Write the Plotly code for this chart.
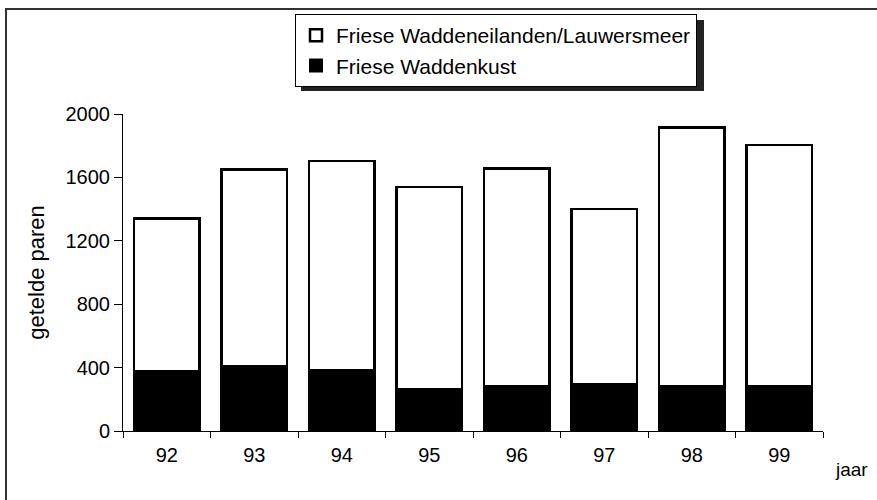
import plotly.graph_objects as go

years = ["92", "93", "94", "95", "96", "97", "98", "99"]
waddenkust = [380, 410, 385, 265, 280, 295, 285, 285]
eilanden_lauwersmeer = [960, 1240, 1320, 1275, 1375, 1105, 1630, 1520]
y_ticks = [0, 400, 800, 1200, 1600, 2000]

FONT = "Liberation Sans, Arial, sans-serif"

L, R, T, B = 123, 823, 114, 431
W, H = R - L, B - T


def px(x):
    return (x - L) / W


def py(y):
    return (B - y) / H


fig = go.Figure()
fig.add_trace(go.Bar(
    x=years, y=waddenkust, name="Friese Waddenkust",
    marker=dict(color="black", line=dict(color="black", width=2)),
))
fig.add_trace(go.Bar(
    x=years, y=eilanden_lauwersmeer, name="Friese Waddeneilanden/Lauwersmeer",
    marker=dict(color="white", line=dict(color="black", width=2.5)),
))

fig.update_layout(
    width=877, height=500,
    barmode="stack", bargap=0.25,
    paper_bgcolor="white", plot_bgcolor="white",
    margin=dict(l=L, r=877 - R, t=T, b=500 - B),
    font=dict(family=FONT, size=20, color="black"),
    showlegend=True,
    legend=dict(
        x=px(295), y=py(14), xanchor="left", yanchor="top",
        traceorder="reversed", bgcolor="white",
        bordercolor="black", borderwidth=1,
        font=dict(family=FONT, size=21, color="black"),
        itemwidth=30, tracegroupgap=0,
    ),
    xaxis=dict(
        type="category", showline=True, linecolor="black", linewidth=1,
        ticks="outside", tickson="boundaries", ticklen=6, tickcolor="black",
        showgrid=False, zeroline=False, ticklabelstandoff=6,
        tickfont=dict(size=20),
    ),
    yaxis=dict(
        range=[0, 2000], tickvals=y_ticks, showline=True, linecolor="black",
        linewidth=1, ticks="outside", ticklen=8, tickcolor="black",
        showgrid=False, zeroline=False, tickfont=dict(size=20),
        title=dict(text="getelde paren", font=dict(size=22), standoff=14),
    ),
    shapes=[
        dict(type="rect", xref="paper", yref="paper", x0=px(6), x1=px(890),
             y0=py(510), y1=py(9), line=dict(color="#333", width=2),
             fillcolor="rgba(0,0,0,0)", layer="below"),
        dict(type="rect", xref="paper", yref="paper",
             x0=px(301), x1=px(704), y0=py(91), y1=py(20),
             line=dict(width=0), fillcolor="#222", layer="below"),
    ],
    annotations=[
        dict(text="jaar", xref="paper", yref="paper", x=px(833),
             y=py(470), showarrow=False, font=dict(size=19),
             xanchor="left", yanchor="middle"),
    ],
)

fig.write_html("out.html", config={"displayModeBar": False},
               post_script="document.body.style.margin='0';")
